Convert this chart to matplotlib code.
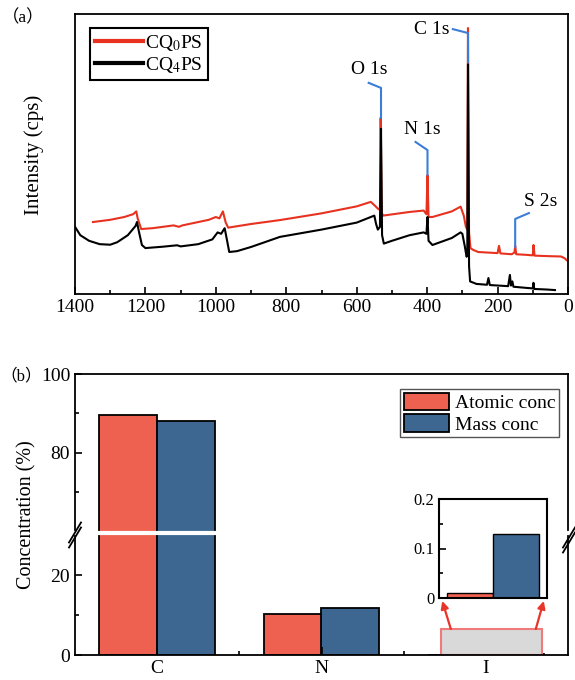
import matplotlib
matplotlib.use("Agg")
import matplotlib.pyplot as plt
from matplotlib.lines import Line2D
from matplotlib.patches import Rectangle

plt.rcParams['font.family'] = 'Liberation Serif'
plt.rcParams['mathtext.fontset'] = 'stix'

# (a) XPS survey: binding energy (eV) vs intensity (arb. units)
cq0_energy = [1349, 1300, 1260, 1235, 1226, 1222, 1212, 1180, 1120, 1105, 1095, 1020,
              1000, 990, 980, 972, 965, 900, 818, 700, 600, 560, 548, 540, 534, 532,
              529, 525, 450, 410, 402, 399, 396, 385, 330, 305, 296, 290, 286, 284,
              281, 277, 270, 255, 200, 196, 192, 160, 152, 150, 147, 120, 100, 98,
              95, 50, 20, 10, 3]
cq0_intensity = [25.7, 26.5, 27.5, 28.5, 29.5, 27.0, 23.2, 23.5, 24.5, 24.0, 24.5, 26.5,
                 27.5, 27.0, 29.5, 25.5, 23.7, 25.0, 26.4, 28.8, 31.3, 32.9, 31.5, 30.5, 30.0, 62.9,
                 29.0, 28.0, 29.3, 29.8, 28.5, 42.5, 27.5, 27.5, 29.5, 31.2, 28.0, 24.0, 23.0, 95.0,
                 22.0, 16.4, 15.8, 15.0, 14.6, 17.2, 14.5, 14.2, 14.8, 17.2, 14.2, 14.0, 13.8, 17.5,
                 13.7, 13.5, 13.4, 12.8, 12.0]

cq4_energy = [1400, 1385, 1360, 1330, 1300, 1280, 1250, 1228, 1224, 1218, 1210, 1200,
              1150, 1110, 1100, 1050, 1010, 995, 985, 975, 968, 962, 940, 900, 818,
              700, 600, 560, 550, 545, 540, 534, 531, 528, 523, 500, 450, 410, 402,
              399, 396, 385, 330, 305, 300, 293, 288, 286, 284, 281, 278, 260, 230,
              226, 222, 170, 165, 162, 158, 155, 120, 100, 98, 96, 60, 37]
cq4_intensity = [24.0, 21.0, 19.0, 17.8, 17.6, 18.5, 21.0, 24.3, 25.7, 22.0, 17.5, 16.4,
                 16.9, 17.4, 17.0, 17.8, 19.5, 22.0, 21.5, 23.5, 19.0, 15.0, 15.3, 16.8, 20.4,
                 23.0, 25.5, 27.5, 28.0, 25.0, 23.0, 24.0, 59.0, 21.0, 18.0, 19.0, 21.0, 22.0, 21.5,
                 27.5, 19.0, 17.5, 20.0, 22.0, 21.5, 17.0, 13.3, 14.0, 82.0, 10.0, 4.5, 3.6, 3.3,
                 5.7, 3.2, 2.8, 6.8, 3.0, 4.5, 2.6, 2.2, 2.0, 4.0, 1.8, 1.6, 1.4]

peak_names = ['O 1s', 'N 1s', 'C 1s', 'S 2s']
peak_energy = [531, 399, 284, 150]
peak_base = [62.9, 42.5, 82.8, 16.8]
peak_elbow = [73.6, 51.4, 93.2, 26.8]
peak_end = [(566, 75.4), (433, 54.3), (327, 94.6), (111, 28.9)]
peak_text = [(563, 80.0), (415, 58.6), (387, 94.6), (77, 33.2)]

# (b) element concentration (%)
elements = ['C', 'N', 'I']
atomic_conc = [89.5, 10.3, 0.01]
mass_conc = [88.0, 11.8, 0.13]

red_bar = '#ee6150'
blue_bar = '#3d6790'
blue_line = '#3b7dd8'
panel_font = ['Liberation Serif', 'Noto Sans CJK SC']

fig = plt.figure(figsize=(5.75, 6.8), dpi=100)


def fx(px):
    return px / 575


def fy(px):
    return 1 - px / 680


# ---------- panel (a) ----------
ax_a = fig.add_axes([fx(75), fy(294), fx(568) - fx(75), fy(14) - fy(294)])
ax_a.plot(cq0_energy, cq0_intensity, color='#e8321f', lw=1.5, label='CQ$_0$PS')
ax_a.plot(cq4_energy, cq4_intensity, color='black', lw=1.5, label='CQ$_4$PS')
for i in range(len(peak_names)):
    e = peak_energy[i]
    ax_a.plot([e, e, peak_end[i][0]], [peak_base[i], peak_elbow[i], peak_end[i][1]],
              color=blue_line, lw=1.5)
    ax_a.text(peak_text[i][0], peak_text[i][1], peak_names[i], fontsize=14,
              ha='center', va='center')
ax_a.set_xlim(1400, 0)
ax_a.set_ylim(0, 100)
ax_a.set_xticks(range(0, 1401, 200))
ax_a.set_xticks(range(100, 1400, 200), minor=True)
ax_a.set_yticks([])
ax_a.tick_params(axis='x', which='both', direction='in', labelsize=14)
ax_a.tick_params(axis='x', which='major', length=5, width=1.2)
ax_a.tick_params(axis='x', which='minor', length=3, width=1.2)
for s in ax_a.spines.values():
    s.set_linewidth(1.3)
fig.text(fx(34), fy(155), 'Intensity (cps)', fontsize=15, rotation=90,
         ha='center', va='center')
leg = ax_a.legend(loc='upper left', bbox_to_anchor=(0.03, 0.95), borderaxespad=0,
                  fontsize=14, handlelength=2.5, fancybox=False, framealpha=1,
                  edgecolor='black', labelspacing=0.1, handletextpad=0.1, borderpad=0.25)
leg.get_frame().set_linewidth(1.5)
for h in leg.get_lines():
    h.set_linewidth(3)
fig.text(fx(2), fy(18), '（a）', fontsize=12.5, va='center', family=panel_font)

# ---------- panel (b), broken y axis ----------
ax_lo = fig.add_axes([fx(75), fy(655), fx(568) - fx(75), fy(533) - fy(655)])
ax_hi = fig.add_axes([fx(75), fy(533), fx(568) - fx(75), fy(374) - fy(533)])
w = 0.352
xs = list(range(len(elements)))
for ax in (ax_lo, ax_hi):
    ax.bar([x - w / 2 for x in xs], atomic_conc, w, color=red_bar, edgecolor='black',
           lw=1.3, label='Atomic conc')
    ax.bar([x + w / 2 for x in xs], mass_conc, w, color=blue_bar, edgecolor='black',
           lw=1.3, label='Mass conc')
    ax.set_xlim(-0.5, 2.5)
    for s in ax.spines.values():
        s.set_linewidth(1.3)
    ax.tick_params(axis='y', which='both', direction='in', labelsize=14, width=1.2)
    ax.tick_params(axis='y', which='major', length=5)
    ax.tick_params(axis='y', which='minor', length=3)
ax_lo.set_ylim(0, 30.5)
ax_hi.set_ylim(59.5, 100)
ax_lo.spines['top'].set_visible(False)
ax_hi.spines['bottom'].set_visible(False)
ax_lo.set_yticks([0, 20])
ax_lo.set_yticks([10], minor=True)
ax_hi.set_yticks([80, 100])
ax_hi.set_yticks([70, 90], minor=True)
ax_hi.set_xticks([])
ax_lo.set_xticks(xs, elements)
ax_lo.set_xticks([0.5, 1.5], minor=True)
ax_lo.tick_params(axis='x', which='both', direction='in', labelsize=14, width=1.2)
ax_lo.tick_params(axis='x', which='major', length=6)
ax_lo.tick_params(axis='x', which='minor', length=3)

# white gap through the bars and break marks
fig.add_artist(Line2D([fx(75), fx(568)], [fy(533), fy(533)], color='white', lw=3, zorder=5))
for cx, cy in [(75, 535), (569, 540)]:
    for dy in (-2.5, 2.5):
        fig.add_artist(Line2D([fx(cx - 6), fx(cx + 6)], [fy(cy + dy + 10), fy(cy + dy - 10)],
                              color='black', lw=1.3, zorder=6))

leg_b = ax_hi.legend(loc='upper right', bbox_to_anchor=(0.982, 0.906), borderaxespad=0,
                     fontsize=14, handlelength=2.3, handleheight=1.0, fancybox=False,
                     framealpha=1, edgecolor='#555555', labelspacing=0.1,
                     handletextpad=0.3, borderpad=0.2)
leg_b.get_frame().set_linewidth(1.0)

fig.text(fx(0), fy(376), '（b）', fontsize=12, va='center', family=panel_font)
fig.text(fx(27), fy(515), 'Concentration (%)', fontsize=14.5, rotation=90,
         ha='center', va='center')

# highlight box at I and inset
ax_lo.add_patch(Rectangle((1.726, 0), 0.614, 6.5, facecolor='#d9d9d9',
                          edgecolor='#f07a7a', lw=1.5, zorder=2))
ax_in = fig.add_axes([fx(439), fy(598), fx(547) - fx(439), fy(499) - fy(598)])
ax_in.set_zorder(10)
wi = 0.43
ax_in.bar([-wi / 2], [atomic_conc[2]], wi, color=red_bar, edgecolor='black', lw=1.0)
ax_in.bar([wi / 2], [mass_conc[2]], wi, color=blue_bar, edgecolor='black', lw=1.0)
ax_in.set_xlim(-0.5, 0.5)
ax_in.set_ylim(0, 0.2)
ax_in.set_xticks([])
ax_in.set_yticks([0, 0.1, 0.2], ['0', '0.1', '0.2'])
ax_in.set_yticks([0.05, 0.15], minor=True)
ax_in.tick_params(axis='y', which='both', direction='in', labelsize=12, width=1.2)
ax_in.tick_params(axis='y', which='major', length=5)
ax_in.tick_params(axis='y', which='minor', length=3)
for s in ax_in.spines.values():
    s.set_linewidth(1.5)

for x0, ex in [(1.787, 0.03), (2.304, 0.97)]:
    ax_lo.annotate('', xy=(ex, -0.03), xycoords=ax_in.transAxes,
                   xytext=(x0, 6.5), textcoords='data',
                   arrowprops=dict(arrowstyle='-|>', color='#e8352a', lw=1.6,
                                   mutation_scale=11, shrinkA=0, shrinkB=0))

fig.savefig('out.png', dpi=100)
